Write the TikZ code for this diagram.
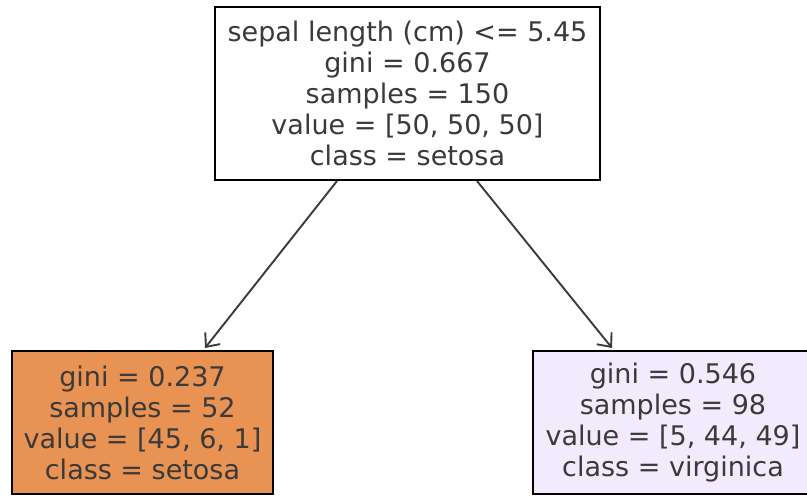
\documentclass[tikz,border=0pt]{standalone}
\usepackage{fontspec}
\setmainfont{DejaVu Sans}
\usetikzlibrary{arrows.meta}
\definecolor{inkgray}{HTML}{3A3A3A}
\definecolor{setosafill}{HTML}{E89253}
\definecolor{virgfill}{HTML}{F2EBFD}

\begin{document}
\begin{tikzpicture}[x=1pt,y=-1pt,
  treebox/.style={draw=black,line width=2pt,align=center,text=inkgray,
    font=\fontsize{27}{31}\selectfont,inner sep=0pt},
  split/.style={draw=inkgray,line width=1.9pt,-{Straight Barb[length=11pt,width=19pt,line width=1.9pt]}}]
  \clip (0,0) rectangle (807,498);
  \useasboundingbox (0,0) rectangle (807,498);
  % nodes
  \node[treebox,fill=white,minimum width=385pt,minimum height=173pt] (root) at (407.5,93.5)
    {sepal length (cm) <= 5.45\\gini = 0.667\\samples = 150\\value = [50, 50, 50]\\class = setosa};
  \node[treebox,fill=setosafill,minimum width=261pt,minimum height=143pt] (leftleaf) at (142.5,422.5)
    {gini = 0.237\\samples = 52\\value = [45, 6, 1]\\class = setosa};
  \node[treebox,fill=virgfill,minimum width=280pt,minimum height=143pt] (rightleaf) at (673,422.5)
    {gini = 0.546\\samples = 98\\value = [5, 44, 49]\\class = virginica};
  % edges
  \draw[split] ([xshift=-70.5pt]root.south) -- ([xshift=62.5pt,yshift=2pt]leftleaf.north);
  \draw[split] ([xshift=69.5pt]root.south) -- ([xshift=-61pt,yshift=2pt]rightleaf.north);
\end{tikzpicture}
\end{document}
